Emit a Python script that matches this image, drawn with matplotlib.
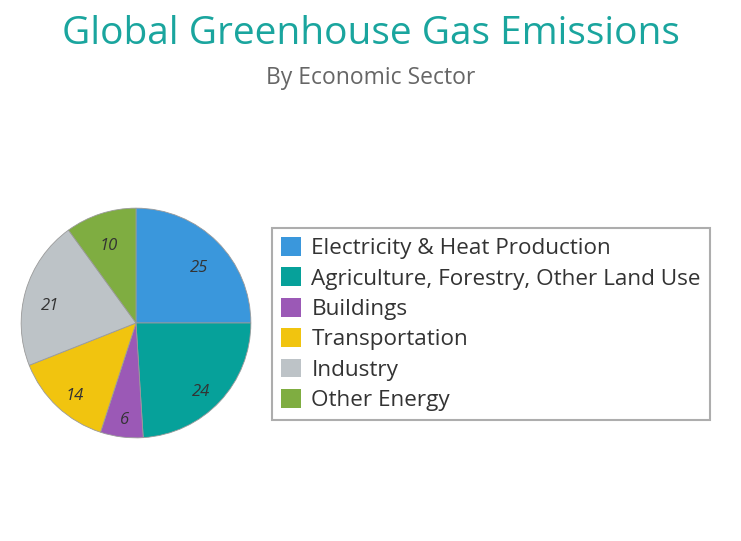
import matplotlib.pyplot as plt

sectors = ['Electricity & Heat Production', 'Agriculture, Forestry, Other Land Use',
           'Buildings', 'Transportation', 'Industry', 'Other Energy']
shares = [25, 24, 6, 14, 21, 10]
colors = ['#3a97dc', '#06a19a', '#9b59b6', '#f1c40f', '#bdc3c7', '#7fad41']

plt.rcParams['font.family'] = ['Open Sans', 'DejaVu Sans']

fig = plt.figure(figsize=(7.41, 5.41), dpi=100)
fig.patch.set_facecolor('white')

fig.text(0.5, 0.938, 'Global Greenhouse Gas Emissions', ha='center', va='center',
         fontsize=28, color='#1aa59e')
fig.text(0.5, 0.855, 'By Economic Sector', ha='center', va='center',
         fontsize=16.5, color='#666666')

ax = fig.add_axes([20 / 741, 102 / 541, 232 / 741, 232 / 541])
wedges, texts = ax.pie(shares, colors=colors, startangle=90, counterclock=False,
                       labels=[str(v) for v in shares], labeldistance=0.78,
                       wedgeprops=dict(edgecolor='#9a9a9a', linewidth=0.6),
                       textprops=dict(fontsize=12, style='italic', color='#333333'))
for t in texts:
    t.set_ha('center')
    t.set_va('top')
ax.set_xlim(-1.01, 1.01)
ax.set_ylim(-1.01, 1.01)
ax.set_aspect('equal')

leg = fig.legend(wedges, sectors, loc='upper left',
                 bbox_to_anchor=(272 / 741, 1 - 228 / 541), borderaxespad=0,
                 fontsize=16.2, frameon=True, fancybox=False,
                 handlelength=0.9, handleheight=0.9, handletextpad=0.45,
                 labelspacing=0.37, borderpad=0.4, labelcolor='#333333')
frame = leg.get_frame()
frame.set_edgecolor('#999999')
frame.set_linewidth(1.5)
for h in leg.legend_handles:
    h.set_edgecolor('none')

fig.savefig('out.png', dpi=100, facecolor='white')
